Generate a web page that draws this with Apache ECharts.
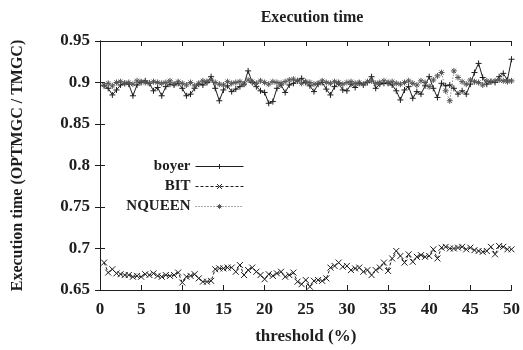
<!DOCTYPE html>
<html>
<head>
<meta charset="utf-8">
<script src="https://cdn.jsdelivr.net/npm/echarts@6/dist/echarts.min.js"></script>
</head>
<body style="margin:0">
<div id="main" style="width:523px;height:350px"></div>
<script>
// threshold (%) values on x
var thresholds = [0.5,1,1.5,2,2.5,3,3.5,4,4.5,5,5.5,6,6.5,7,7.5,8,8.5,9,9.5,10,
  10.5,11,11.5,12,12.5,13,13.5,14,14.5,15,15.5,16,16.5,17,17.5,18,18.5,19,19.5,20,
  20.5,21,21.5,22,22.5,23,23.5,24,24.5,25,25.5,26,26.5,27,27.5,28,28.5,29,29.5,30,
  30.5,31,31.5,32,32.5,33,33.5,34,34.5,35,35.5,36,36.5,37,37.5,38,38.5,39,39.5,40,
  40.5,41,41.5,42,42.5,43,43.5,44,44.5,45,45.5,46,46.5,47,47.5,48,48.5,49,49.5,50];

var boyer = [0.896,0.893,0.885,0.891,0.897,0.899,0.898,0.884,0.897,0.900,
  0.902,0.899,0.890,0.894,0.884,0.895,0.898,0.897,0.899,0.893,
  0.884,0.886,0.893,0.898,0.897,0.900,0.907,0.893,0.878,0.891,
  0.896,0.889,0.892,0.895,0.898,0.914,0.900,0.895,0.890,0.888,
  0.875,0.877,0.893,0.897,0.888,0.897,0.899,0.902,0.905,0.900,
  0.896,0.889,0.898,0.900,0.892,0.885,0.895,0.899,0.891,0.890,
  0.898,0.894,0.899,0.897,0.900,0.907,0.893,0.898,0.899,0.899,
  0.897,0.890,0.879,0.891,0.895,0.881,0.889,0.886,0.896,0.907,
  0.893,0.882,0.899,0.896,0.897,0.893,0.886,0.890,0.886,0.898,
  0.912,0.923,0.906,0.898,0.901,0.900,0.907,0.911,0.903,0.928];

var bit = [0.683,0.671,0.675,0.670,0.669,0.668,0.668,0.666,0.667,0.666,
  0.669,0.668,0.670,0.667,0.666,0.668,0.667,0.668,0.671,0.659,
  0.666,0.667,0.669,0.664,0.660,0.660,0.661,0.675,0.676,0.676,
  0.677,0.677,0.672,0.680,0.668,0.674,0.677,0.672,0.668,0.663,
  0.669,0.667,0.670,0.672,0.666,0.668,0.671,0.660,0.657,0.662,
  0.654,0.661,0.662,0.661,0.664,0.677,0.679,0.683,0.678,0.679,
  0.674,0.676,0.677,0.672,0.674,0.668,0.674,0.677,0.683,0.673,
  0.688,0.697,0.691,0.683,0.693,0.684,0.690,0.692,0.690,0.691,
  0.699,0.688,0.701,0.702,0.700,0.700,0.701,0.702,0.699,0.701,
  0.698,0.697,0.696,0.697,0.702,0.693,0.703,0.702,0.699,0.699];

var nqueen = [0.897,0.899,0.896,0.900,0.901,0.899,0.900,0.898,0.902,0.901,
  0.900,0.899,0.901,0.900,0.899,0.900,0.902,0.898,0.901,0.899,
  0.897,0.900,0.896,0.899,0.902,0.901,0.903,0.900,0.898,0.897,
  0.901,0.899,0.900,0.901,0.898,0.903,0.901,0.899,0.902,0.900,
  0.898,0.901,0.900,0.899,0.901,0.903,0.904,0.902,0.899,0.901,
  0.900,0.898,0.899,0.902,0.900,0.899,0.901,0.900,0.898,0.900,
  0.901,0.899,0.900,0.898,0.901,0.902,0.899,0.900,0.902,0.900,
  0.901,0.899,0.898,0.900,0.902,0.899,0.897,0.902,0.900,0.895,
  0.903,0.908,0.912,0.890,0.878,0.914,0.906,0.901,0.898,0.903,
  0.901,0.900,0.897,0.902,0.901,0.902,0.903,0.902,0.901,0.902];

var ink = '#1e1e1e';
var font = 'Liberation Serif';

function pairs(vals) {
  return vals.map(function (v, i) { return [thresholds[i], v]; });
}

var plusSym = 'path://M5,0L5,10M0,5L10,5';
var crossSym = 'path://M0,0L10,10M10,0L0,10';
var starSym = 'path://M5,0L5,10M0,5L10,5M1.5,1.5L8.5,8.5M8.5,1.5L1.5,8.5';

function mkLegend(name, top) {
  return {
    data: [name], right: 274, top: top, align: 'right',
    itemWidth: 48, itemHeight: 6, itemGap: 10, selectedMode: false,
    itemStyle: { borderWidth: 1 },
    lineStyle: { width: 1 },
    textStyle: { fontFamily: font, fontWeight: 'bold', fontSize: 15, color: ink }
  };
}

var chart = echarts.init(document.getElementById('main'));
chart.setOption({
  animation: false,
  title: {
    text: 'Execution time', left: 307, top: 5, textAlign: 'center',
    textStyle: { fontFamily: font, fontWeight: 'bold', fontSize: 16, color: ink }
  },
  legend: [mkLegend('boyer', 154), mkLegend('BIT', 174), mkLegend('NQUEEN', 194)],
  grid: { left: 100, right: 7, top: 41, bottom: 56 },
  xAxis: [{
    type: 'value', min: 0, max: 50, interval: 5,
    name: 'threshold (%)', nameLocation: 'middle', nameGap: 38,
    nameTextStyle: { fontFamily: font, fontWeight: 'bold', fontSize: 17, color: ink },
    axisLine: { lineStyle: { color: ink, width: 1 } },
    axisTick: { inside: true, length: 5, lineStyle: { color: ink } },
    axisLabel: { margin: 11, fontFamily: font, fontWeight: 'bold', fontSize: 17, color: ink },
    splitLine: { show: false }
  }, {
    type: 'value', min: 0, max: 50, interval: 5, position: 'top',
    axisLine: { lineStyle: { color: ink, width: 1 } },
    axisTick: { inside: true, length: 5, lineStyle: { color: ink } },
    axisLabel: { show: false }, splitLine: { show: false }
  }],
  yAxis: [{
    type: 'value', min: 0.65, max: 0.95, interval: 0.05,
    name: 'Execution time (OPTMGC / TMGC)', nameLocation: 'middle', nameGap: 74,
    nameTextStyle: { fontFamily: font, fontWeight: 'bold', fontSize: 16, color: ink },
    axisLine: { show: true, lineStyle: { color: ink, width: 1 } },
    axisTick: { show: true, inside: true, length: 5, lineStyle: { color: ink } },
    axisLabel: { margin: 10, fontFamily: font, fontWeight: 'bold', fontSize: 17, color: ink },
    splitLine: { show: false }
  }, {
    type: 'value', min: 0.65, max: 0.95, interval: 0.05, position: 'right',
    axisLine: { show: true, lineStyle: { color: ink, width: 1 } },
    axisTick: { show: true, inside: true, length: 5, lineStyle: { color: ink } },
    axisLabel: { show: false }, splitLine: { show: false }
  }],
  series: [{
    name: 'boyer', type: 'line', data: pairs(boyer),
    symbol: plusSym, symbolSize: 6,
    lineStyle: { color: ink, width: 1 },
    itemStyle: { color: ink, borderColor: ink, borderWidth: 1 }
  }, {
    name: 'BIT', type: 'line', data: pairs(bit),
    symbol: crossSym, symbolSize: 6,
    lineStyle: { color: ink, width: 1, type: [3, 2] },
    itemStyle: { color: ink, borderColor: ink, borderWidth: 1 }
  }, {
    name: 'NQUEEN', type: 'line', data: pairs(nqueen),
    symbol: starSym, symbolSize: 6,
    lineStyle: { color: '#555', width: 1, type: [1, 2] },
    itemStyle: { color: '#555', borderColor: '#555', borderWidth: 1 }
  }]
});
</script>
</body>
</html>
